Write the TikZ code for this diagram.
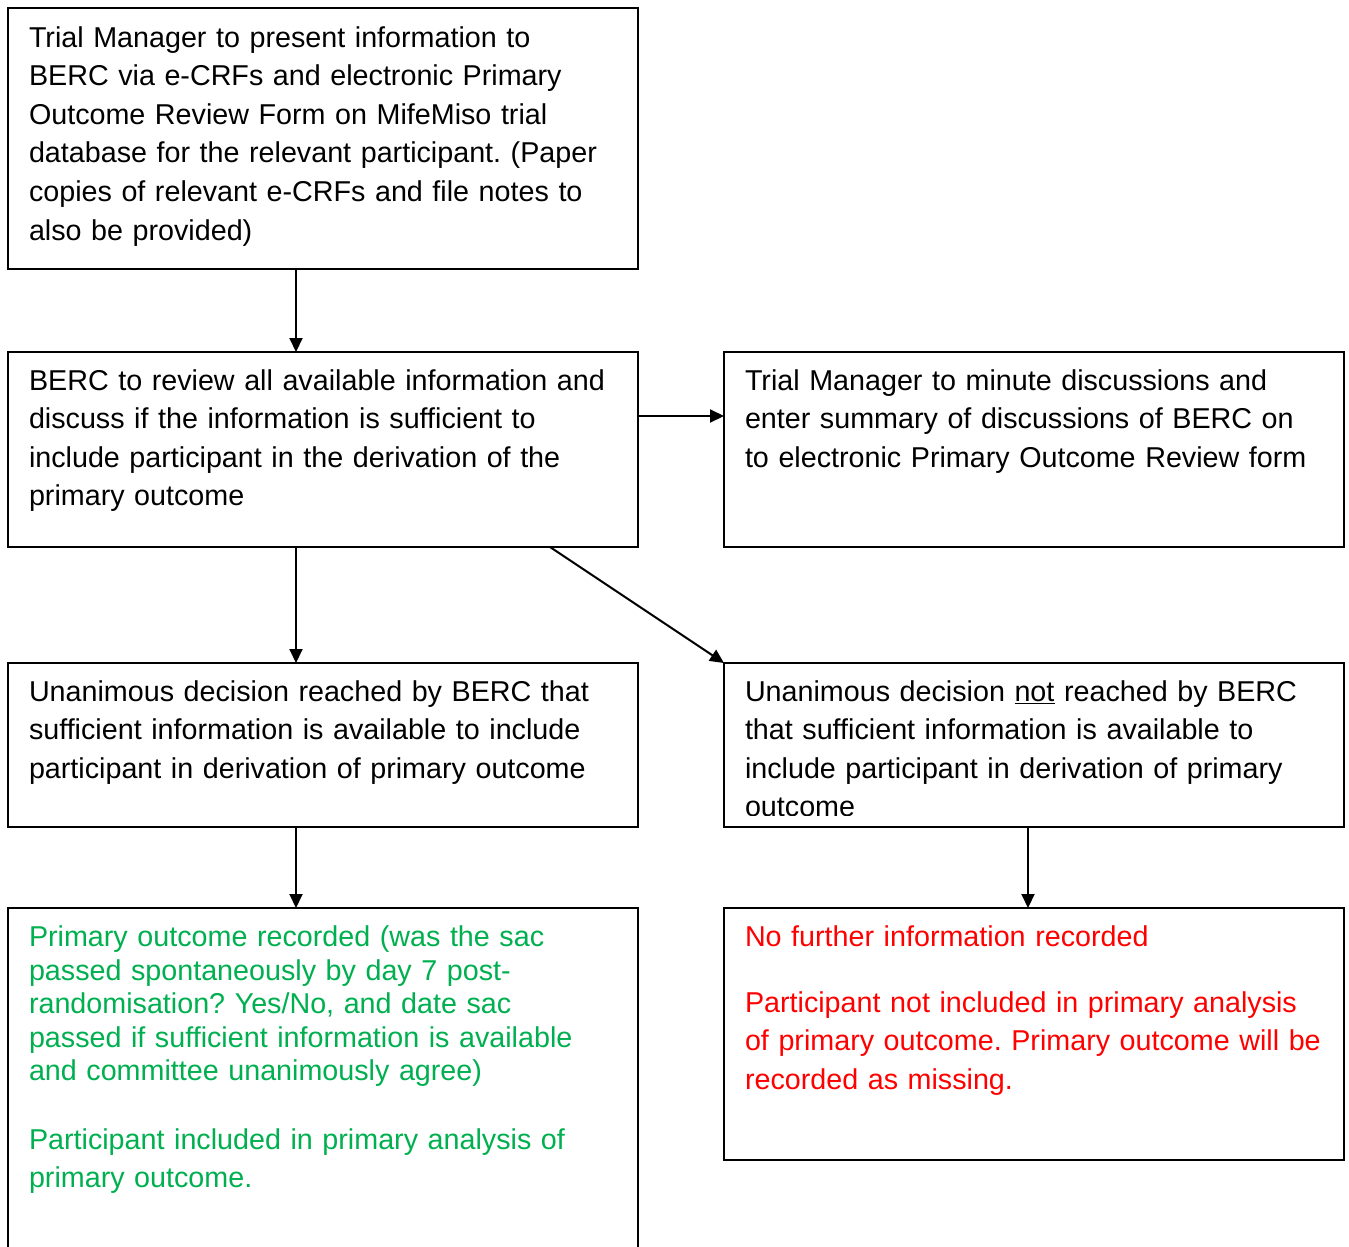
\documentclass[tikz,border=0pt]{standalone}
\usepackage{fontspec}
\setmainfont{Liberation Sans}
\usetikzlibrary{arrows.meta}
\definecolor{okgreen}{HTML}{00B050}
\definecolor{nored}{HTML}{FF0000}
\frenchspacing
\begin{document}
\begin{tikzpicture}[x=1pt,y=-1pt,
  box/.style={draw=black, line width=2pt, inner sep=0pt, outer sep=0pt, anchor=north west, rectangle},
  txt/.style={anchor=north west, inner sep=0pt, outer sep=0pt, text width=#1, align=left,
    font=\fontsize{28.7}{38.6}\selectfont\frenchspacing},
  txt/.default=612pt,
  gtxt/.style={txt, text=okgreen, font=\fontsize{28.7}{33.6}\selectfont\frenchspacing},
  rtxt/.style={txt, text=nored},
  arr/.style={line width=2pt, -{Triangle[length=14pt,width=13pt]}}]
\useasboundingbox (0,0) rectangle (1349,1247);
\fill[white] (0,0) rectangle (1349,1247);
% boxes
\node[box, minimum width=630pt, minimum height=261pt] (b1) at (8,8) {};
\node[box, minimum width=630pt, minimum height=195pt] (b2) at (8,352) {};
\node[box, minimum width=620pt, minimum height=195pt] (b3) at (724,352) {};
\node[box, minimum width=630pt, minimum height=164pt] (b4) at (8,663) {};
\node[box, minimum width=620pt, minimum height=164pt] (b5) at (724,663) {};
\node[box, minimum width=630pt, minimum height=380pt] (b6) at (8,908) {};
\node[box, minimum width=620pt, minimum height=252pt] (b7) at (724,908) {};
% texts
\node[txt] (t1) at (29,20) {\strut Trial Manager to present information to\\
BERC via e-CRFs and electronic Primary\\
Outcome Review Form on MifeMiso trial\\
database for the relevant participant. (Paper\\
copies of relevant e-CRFs and file notes to\\
also be provided)};
\node[txt] (t2) at (29,363) {\strut BERC to review all available information and\\
discuss if the information is sufficient to\\
include participant in the derivation of the\\
primary outcome};
\node[txt] (t3) at (745,363) {\strut Trial Manager to minute discussions and\\
enter summary of discussions of BERC on\\
to electronic Primary Outcome Review form};
\node[txt] (t4) at (29,674) {\strut Unanimous decision reached by BERC that\\
sufficient information is available to include\\
participant in derivation of primary outcome};
\begin{scope}
\clip (724,663) rectangle (1344,815);
\node[txt] (t5) at (745,674) {\strut Unanimous decision \underline{not} reached by BERC\\
that sufficient information is available to\\
include participant in derivation of primary\\
outcome};
\end{scope}
\node[gtxt] (t6a) at (29,923) {\strut Primary outcome recorded (was the sac\\
passed spontaneously by day 7 post-\\
randomisation? Yes/No, and date sac\\
passed if sufficient information is available\\
and committee unanimously agree)};
\node[txt, text=okgreen] (t6b) at (29,1122) {\strut Participant included in primary analysis of\\
primary outcome.};
\node[rtxt] (t7a) at (745,919) {\strut No further information recorded};
\node[rtxt] (t7b) at (745,985) {\strut Participant not included in primary analysis\\
of primary outcome. Primary outcome will be\\
recorded as missing.};
% connectors
\draw[arr] ([xshift=288pt]b1.south west) -- ([xshift=288pt]b2.north west);
\draw[arr] ([yshift=-64pt]b2.north east) -- ([yshift=-64pt]b3.north west);
\draw[arr] ([xshift=288pt]b2.south west) -- ([xshift=288pt]b4.north west);
\draw[arr] ([xshift=542pt]b2.south west) -- (b5.north west);
\draw[arr] ([xshift=288pt]b4.south west) -- ([xshift=288pt]b6.north west);
\draw[arr] ([xshift=304pt]b5.south west) -- ([xshift=304pt]b7.north west);
\end{tikzpicture}
\end{document}
